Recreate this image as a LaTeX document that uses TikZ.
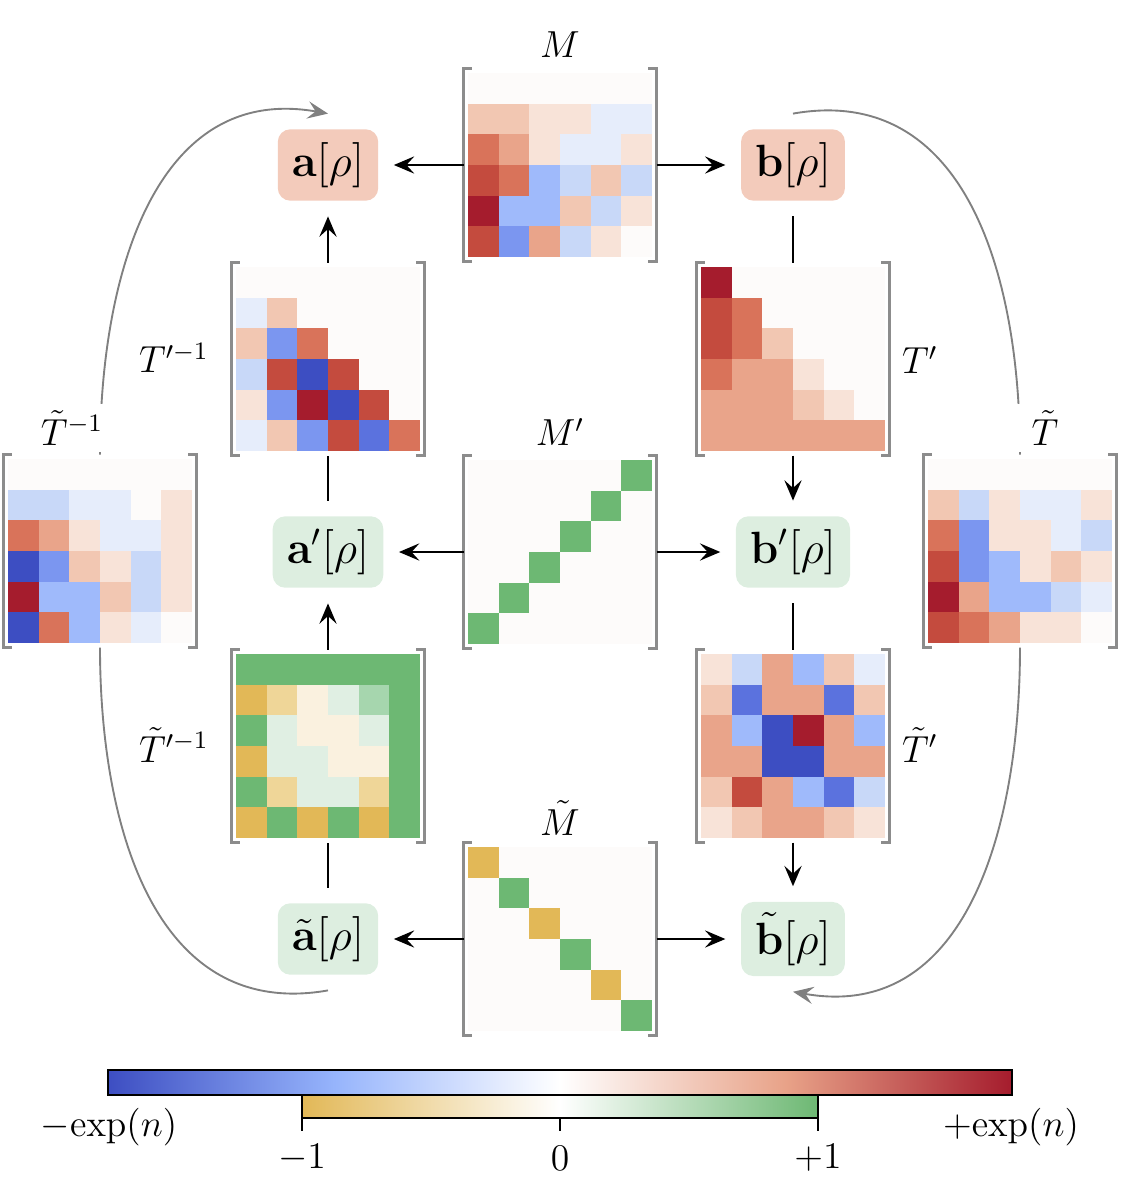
\documentclass[tikz,border=0pt]{standalone}
\usepackage{amsmath,amssymb,bm}
\usepackage{tikz}
\usetikzlibrary{arrows.meta}

\definecolor{hma}{HTML}{3D4EC2}
\definecolor{hmb}{HTML}{5B72DE}
\definecolor{hmc}{HTML}{7B96F0}
\definecolor{hmd}{HTML}{9FBAFB}
\definecolor{hme}{HTML}{C8D8F8}
\definecolor{hmf}{HTML}{E6EDFB}
\definecolor{hmg}{HTML}{FDFBFA}
\definecolor{hmh}{HTML}{F8E3D8}
\definecolor{hmi}{HTML}{F2C7B2}
\definecolor{hmj}{HTML}{E9A48A}
\definecolor{hmk}{HTML}{D9735A}
\definecolor{hml}{HTML}{C44B3E}
\definecolor{hmm}{HTML}{A51C2D}
\definecolor{hmp}{HTML}{E2B857}
\definecolor{hmq}{HTML}{EFD698}
\definecolor{hmr}{HTML}{FAF1DF}
\definecolor{hms}{HTML}{E0EFE3}
\definecolor{hmt}{HTML}{A6D6AE}
\definecolor{hmu}{HTML}{6DB873}
\definecolor{boxred}{HTML}{F3CBBB}
\definecolor{boxgrn}{HTML}{DDEEE0}
\definecolor{cwlo}{HTML}{96B4FC}
\definecolor{cwhi}{HTML}{E8A288}

\newcommand{\heatmap}[3]{%
  \node[mat] (#1) at (#2) {};
  \begin{scope}[shift={(#2)}]
    \foreach \rowlist [count=\ri] in {#3} {
      \foreach \cl [count=\ci] in \rowlist {
        \fill[fill=hm\cl] (\ci*30.6-122.4, \ri*30.6-122.4) rectangle ++(30.6,30.6);
      }
    }
  \end{scope}
  \draw[brk] ([xshift=2.6pt]#1.north west) -- (#1.north west) -- (#1.south west) -- ([xshift=2.6pt]#1.south west);
  \draw[brk] ([xshift=-2.6pt]#1.north east) -- (#1.north east) -- (#1.south east) -- ([xshift=-2.6pt]#1.south east);
}

\begin{document}
\begin{tikzpicture}[x=0.0112cm, y=-0.0112cm,
    mat/.style={minimum size=2.1616cm, inner sep=0pt, outer sep=0pt},
    brk/.style={draw=gray!90, line width=0.7pt},
    box/.style={rounded corners=4pt, minimum height=0.8cm, inner xsep=4.5pt, outer sep=5pt, font=\Large},
    redbox/.style={box, fill=boxred},
    grnbox/.style={box, fill=boxgrn},
    lbl/.style={font=\large},
    arr/.style={-{Stealth[length=6.5pt, width=5.5pt, inset=2.5pt]}, line width=0.6pt},
    con/.style={line width=0.6pt},
    gry/.style={draw=gray, line width=0.6pt},
    garr/.style={gry, -{Stealth[length=6.5pt, width=5.5pt, inset=2.5pt]}}]
  \useasboundingbox (0,0) rectangle (1123,1200);

  \node[redbox] (a) at (328,165) {$\mathbf{a}[\rho]$};
  \node[redbox] (b) at (793,165) {$\mathbf{b}[\rho]$};
  \node[grnbox] (ap) at (328,552) {$\mathbf{a}'[\rho]$};
  \node[grnbox] (bp) at (793,552) {$\mathbf{b}'[\rho]$};
  \node[grnbox] (at) at (328,939) {$\tilde{\mathbf{a}}[\rho]$};
  \node[grnbox] (bt) at (793,939) {$\tilde{\mathbf{b}}[\rho]$};

  \heatmap{M}{560,165}{{g,g,g,g,g,g},{i,i,h,h,f,f},{k,j,h,f,f,h},{l,k,d,e,i,e},{m,d,d,i,e,h},{l,c,j,e,h,g}}
  \heatmap{Tpinv}{328,359}{{g,g,g,g,g,g},{f,i,g,g,g,g},{i,c,k,g,g,g},{e,l,a,l,g,g},{h,c,m,a,l,g},{f,i,c,l,b,k}}
  \heatmap{Tp}{793,359}{{m,g,g,g,g,g},{l,k,g,g,g,g},{l,k,i,g,g,g},{k,j,j,h,g,g},{j,j,j,i,h,g},{j,j,j,j,j,j}}
  \heatmap{Mp}{560,552}{{g,g,g,g,g,u},{g,g,g,g,u,g},{g,g,g,u,g,g},{g,g,u,g,g,g},{g,u,g,g,g,g},{u,g,g,g,g,g}}
  \heatmap{Ttinv}{100,551}{{g,g,g,g,g,g},{e,e,f,f,g,h},{k,j,h,f,f,h},{a,c,i,h,e,h},{m,d,d,i,e,h},{a,k,d,h,f,g}}
  \heatmap{Tt}{1020,551}{{g,g,g,g,g,g},{i,e,h,f,f,h},{k,c,h,h,f,e},{l,c,d,h,i,h},{m,j,d,d,e,f},{l,k,j,h,h,g}}
  \heatmap{Ttpinv}{328,746}{{u,u,u,u,u,u},{p,q,r,s,t,u},{u,s,r,r,s,u},{p,s,s,r,r,u},{u,q,s,s,q,u},{p,u,p,u,p,u}}
  \heatmap{Ttp}{793,746}{{h,e,j,d,i,f},{i,b,j,j,b,i},{j,d,a,m,j,d},{j,j,a,a,j,j},{i,l,j,d,b,e},{h,i,j,j,i,h}}
  \heatmap{Mt}{560,939}{{p,g,g,g,g,g},{g,u,g,g,g,g},{g,g,p,g,g,g},{g,g,g,u,g,g},{g,g,g,g,p,g},{g,g,g,g,g,u}}

  \draw[arr] (M) -- (a);
  \draw[arr] (M) -- (b);
  \draw[arr] (Mp) -- (ap);
  \draw[arr] (Mp) -- (bp);
  \draw[arr] (Mt) -- (at);
  \draw[arr] (Mt) -- (bt);
  \draw[con] (ap) -- (Tpinv);
  \draw[arr] (Tpinv) -- (a);
  \draw[con] (b) -- (Tp);
  \draw[arr] (Tp) -- (bp);
  \draw[con] (at) -- (Ttpinv);
  \draw[arr] (Ttpinv) -- (ap);
  \draw[con] (bp) -- (Ttp);
  \draw[arr] (Ttp) -- (bt);

  \draw[garr] (Ttinv.north) to[out=90, in=170, looseness=1.1] (a.north);
  \draw[gry] (at.south) to[out=190, in=-90, looseness=1.1] (Ttinv.south);
  \draw[gry] (b.north) to[out=10, in=90, looseness=1.1] (Tt.north);
  \draw[garr] (Tt.south) to[out=-90, in=-10, looseness=1.1] (bt.south);

  \node[lbl] (lM) at (560,45) {$M$};
  \node[lbl] (lMp) at (560,432) {$M'$};
  \node[lbl] (lMt) at (560,818) {$\tilde{M}$};
  \node[lbl] (lTpinv) at (174,358) {$T'^{-1}$};
  \node[lbl] (lTp) at (920,360) {$T'$};
  \node[lbl, fill=white, inner ysep=2pt] (lTtinv) at (72,428) {$\tilde{T}^{-1}$};
  \node[lbl, fill=white, inner xsep=6pt, inner ysep=2pt] (lTt) at (1045,428) {$\tilde{T}$};
  \node[lbl] (lTtpinv) at (174,745) {$\tilde{T}'^{-1}$};
  \node[lbl] (lTtp) at (920,745) {$\tilde{T}'$};

  \shade[left color=hma, right color=white, middle color=cwlo] (108,1070) rectangle (560,1095);
  \shade[left color=white, right color=hmm, middle color=cwhi] (560,1070) rectangle (1012,1095);
  \draw[line width=0.6pt] (108,1070) rectangle (1012,1095);
  \shade[left color=hmp, right color=hmu, middle color=white] (302,1095) rectangle (818,1118);
  \draw[line width=0.6pt] (302,1095) rectangle (818,1118);
  \foreach \tx in {302,560,818}
    \draw[line width=0.6pt] (\tx,1118) -- (\tx,1131);
  \node[lbl] (lmin) at (109,1127) {${-}\mathrm{exp}(n)$};
  \node[lbl] (lmax) at (1011,1127) {${+}\mathrm{exp}(n)$};
  \node[lbl] (tneg) at (302,1158) {$-1$};
  \node[lbl] (tzero) at (560,1158) {$0$};
  \node[lbl] (tpos) at (818,1158) {$+1$};
\end{tikzpicture}
\end{document}
